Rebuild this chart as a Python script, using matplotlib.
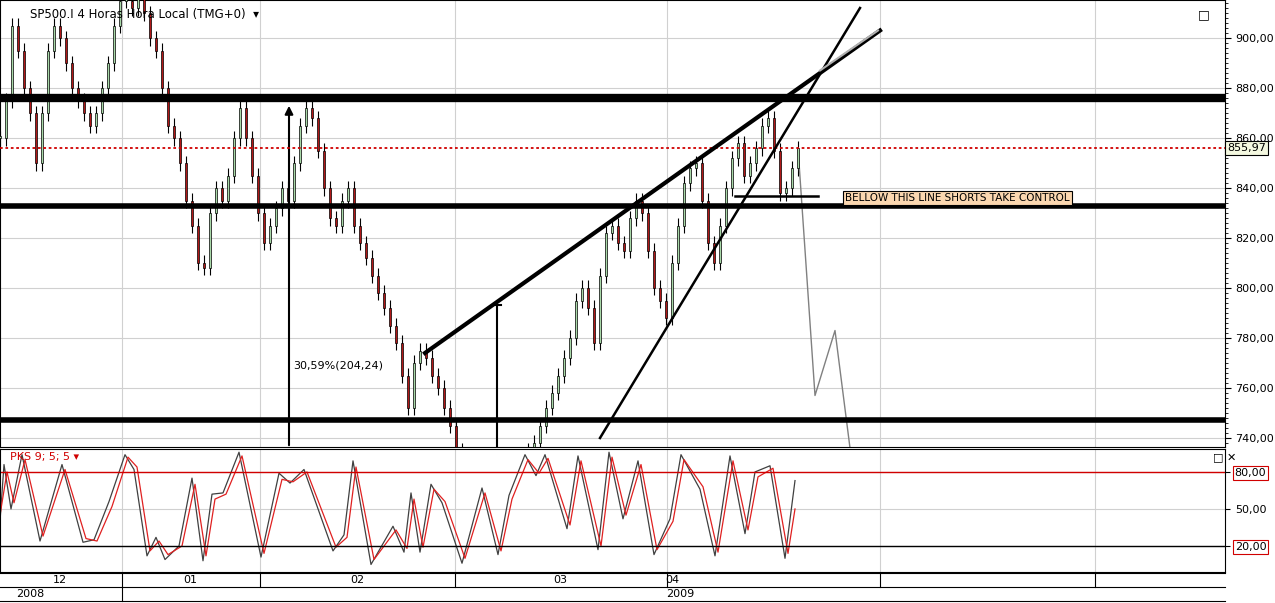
import matplotlib
matplotlib.use("Agg")
import matplotlib.pyplot as plt
from matplotlib.ticker import FuncFormatter, MultipleLocator

# 4h closes, one every 6 chart units starting at 0
closes = [860, 875, 905, 895, 880, 870, 850, 870, 895, 905,
          900, 890, 880, 875, 870, 865, 870, 880, 890, 905,
          915, 915, 912, 918, 910, 900, 895, 880, 865, 860,
          850, 835, 825, 810, 808, 830, 840, 835, 845, 860,
          872, 860, 845, 830, 818, 825, 832, 840, 835, 850,
          865, 872, 868, 855, 840, 828, 825, 835, 840, 825,
          818, 812, 805, 798, 792, 785, 778, 765, 752, 770,
          775, 772, 765, 760, 752, 745, 735, 728, 722, 718,
          715, 720, 725, 722, 718, 722, 728, 732, 735, 738,
          745, 752, 758, 765, 772, 780, 795, 800, 792, 778,
          805, 822, 825, 818, 815, 828, 835, 830, 815, 800,
          795, 788, 810, 825, 842, 848, 850, 835, 818, 810,
          825, 840, 852, 858, 845, 850, 856, 865, 868, 855,
          838, 840, 848, 855.97]
bar_step = 6
last_price = 855.97

proj_x = [798, 815, 835, 850]
proj_y = [856, 757, 783, 736]

# PKS oscillator (position, value)
pks_x = [0, 4, 11, 22, 40, 62, 83, 94, 109, 125, 134, 147, 156, 165, 179, 192, 203, 212,
         223, 239, 261, 279, 290, 304, 333, 344, 353, 371, 393, 404, 411, 420, 431, 442,
         462, 482, 498, 509, 525, 536, 545, 567, 578, 598, 609, 623, 638, 654, 670, 681,
         700, 715, 730, 745, 755, 770, 785, 795]
pks_k = [40, 86, 50, 94, 24, 86, 23, 25, 56, 94, 82, 12, 27, 9, 20, 75, 8, 62,
         63, 96, 11, 79, 71, 82, 16, 29, 89, 5, 36, 15, 63, 15, 70, 55,
         6, 67, 13, 61, 94, 77, 94, 34, 93, 17, 96, 42, 89, 13, 42, 94,
         66, 12, 93, 30, 80, 85, 10, 73]
pks_dx = [0, 7, 14, 25, 43, 65, 86, 97, 112, 128, 137, 150, 159, 168, 182, 195, 206, 215,
          226, 242, 264, 282, 293, 307, 336, 347, 356, 374, 396, 407, 414, 423, 434, 445,
          465, 485, 501, 512, 528, 539, 548, 570, 581, 601, 612, 626, 641, 657, 673, 684,
          703, 718, 733, 748, 758, 773, 788, 795]
pks_d = [45, 80, 55, 90, 28, 82, 26, 24, 52, 92, 84, 16, 24, 13, 20, 70, 12, 58,
         62, 93, 14, 74, 72, 80, 19, 27, 84, 9, 33, 18, 58, 19, 66, 56,
         10, 63, 16, 58, 90, 79, 91, 37, 89, 20, 92, 45, 86, 17, 40, 90,
         68, 15, 89, 33, 76, 83, 14, 50]

months = ["12", "01", "02", "03", "04"]
month_pos = [60, 190, 357, 560, 672]
month_edges = [122, 260, 455, 667, 880, 1095]
years = ["2008", "2009"]
year_pos = [30, 680]

fig = plt.figure(figsize=(12.75, 6.03), dpi=100)
xmax = 1225
ax = fig.add_axes([0, 1 - 447 / 603, xmax / 1275, 447 / 603])
ax2 = fig.add_axes([0, 1 - 572 / 603, xmax / 1275, 123 / 603])
comma = FuncFormatter(lambda v, p: f"{v:.2f}".replace(".", ","))

# candles
prev = closes[0]
for i, c in enumerate(closes):
    x = i * bar_step
    o = prev
    col = "#a8d8a8" if c >= o else "#b01818"
    lo, hi = min(o, c), max(o, c)
    ax.vlines(x, lo - 3, hi + 3, color="black", lw=0.8, zorder=2)
    ax.bar(x, max(hi - lo, 0.8), bottom=lo, width=2.6, color=col,
           edgecolor="black", lw=0.5, zorder=3)
    prev = c
ax.plot(proj_x, proj_y, color="#808080", lw=1, zorder=2)

# drawn support/resistance
ax.axhline(876, color="black", lw=6, zorder=4)
ax.axhline(833, color="black", lw=4, zorder=4)
ax.axhline(747, color="black", lw=4, zorder=4)
ax.axhline(last_price, color="#d00000", lw=1.3, ls=(0, (1.5, 1.5)), zorder=4)
ax.plot([425, 880], [774, 903], color="black", lw=3, zorder=4)
ax.plot([820, 878], [887, 903], color="#b0b0b0", lw=1.5, zorder=5)
ax.plot([600, 860], [740, 912], color="black", lw=1.8, zorder=4)
ax.plot([735, 818], [837, 837], color="black", lw=1.8, zorder=4)
ax.annotate("", xy=(289, 874), xytext=(289, 736),
            arrowprops=dict(arrowstyle="-|>", color="black", lw=1.5, mutation_scale=12))
ax.plot([497, 497], [736, 793], color="black", lw=1.5)
ax.plot([493, 501], [793, 793], color="black", lw=1.5)
ax.text(293, 769, "30,59%(204,24)", fontsize=8, va="center")
ax.text(845, 836, "BELLOW THIS LINE SHORTS TAKE CONTROL", fontsize=7.5, va="center",
        bbox=dict(boxstyle="square,pad=0.2", fc="#fbd7b0", ec="black", lw=0.8), zorder=6)
ax.text(30, 912, "SP500.I 4 Horas Hora Local (TMG+0)  \u25BE", fontsize=8.5, va="top")
ax.text(1198, 912, "\u25A1", fontsize=9, va="top")

ax.set_xlim(0, xmax)
ax.set_ylim(736.4, 915.2)
ax.yaxis.tick_right()
ax.yaxis.set_major_locator(MultipleLocator(20))
ax.yaxis.set_minor_locator(MultipleLocator(2))
ax.yaxis.set_major_formatter(comma)
ax.tick_params(axis="y", labelsize=8, length=4, direction="out")
ax.tick_params(axis="y", which="minor", length=2)
ax.set_xticks(month_edges)
ax.tick_params(axis="x", length=0, labelbottom=False)
ax.grid(color="#d0d0d0", lw=0.8)
ax.text(xmax + 2, last_price, f"{last_price:.2f}".replace(".", ","), fontsize=8,
        va="center", ha="left", bbox=dict(boxstyle="square,pad=0.2", fc="#f4f8e0", ec="black", lw=0.8))

# oscillator
ax2.plot(pks_x, pks_k, color="#404040", lw=0.9)
ax2.plot(pks_dx, pks_d, color="#e02020", lw=0.9)
ax2.axhline(80, color="#d00000", lw=1)
ax2.axhline(20, color="black", lw=1)
ax2.set_xlim(0, xmax)
ax2.set_ylim(-1.1, 98.6)
ax2.yaxis.tick_right()
ax2.set_yticks([20, 50, 80])
ax2.yaxis.set_major_formatter(comma)
ax2.tick_params(axis="y", labelsize=8)
for lbl in ax2.get_yticklabels():
    if lbl.get_text() != "50,00":
        lbl.set_bbox(dict(boxstyle="square,pad=0.15", fc="white", ec="#d00000", lw=0.8))
ax2.set_xticks(month_edges)
ax2.tick_params(axis="x", length=0, labelbottom=False)
ax2.grid(color="#d0d0d0", lw=0.8)
ax2.text(10, 96, "PKS 9; 5; 5 \u25BE", color="#d00000", fontsize=8, va="top")
ax2.text(1213, 96, "\u25A1 \u2715", fontsize=8, va="top")

# date rows
r1 = 1 - 573 / 603
r2 = 1 - 587 / 603
r3 = 1 - 601 / 603
xf = lambda v: v / 1275
for y in (r1, r2, r3):
    fig.add_artist(plt.Line2D([0, xf(xmax)], [y, y], color="black", lw=0.8))
for e in month_edges:
    fig.add_artist(plt.Line2D([xf(e), xf(e)], [r2, r1], color="black", lw=0.8))
fig.add_artist(plt.Line2D([xf(122), xf(122)], [r3, r2], color="black", lw=0.8))
for lab, p in zip(months, month_pos):
    fig.text(xf(p), (r1 + r2) / 2, lab, fontsize=8, ha="center", va="center")
for lab, p in zip(years, year_pos):
    fig.text(xf(p), (r2 + r3) / 2, lab, fontsize=8, ha="center", va="center")

fig.savefig("out.png", dpi=100)
